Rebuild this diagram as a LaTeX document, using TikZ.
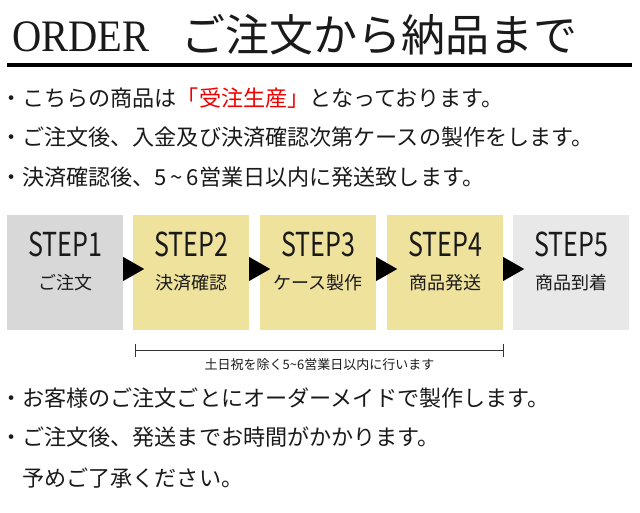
\documentclass[tikz,border=0pt]{standalone}
\usepackage{fontspec}
\setmainfont{Liberation Serif}
\newfontfamily\jp{Noto Sans CJK JP}
\usetikzlibrary{calc}
\definecolor{boxgrayA}{HTML}{D8D8D8}
\definecolor{boxyellow}{HTML}{EEE29C}
\definecolor{boxgrayB}{HTML}{E8E8E8}
\definecolor{jpred}{HTML}{F00000}
\definecolor{ink}{HTML}{1A1A1A}
\begin{document}
\begin{tikzpicture}[x=1pt,y=-1pt,
  bodyline/.style={anchor=west,inner sep=0,text=ink,font=\jp\fontsize{22.1}{26}\selectfont},
  stepbox/.style={minimum width=116pt,minimum height=115pt,inner sep=0,draw=none},
  steplabel/.style={inner sep=0,text=ink,font=\jp\fontsize{33}{36}\selectfont},
  stepsub/.style={inner sep=0,text=ink,font=\jp\fontsize{18}{20}\selectfont},
  arrowtri/.style={fill=black},
  bracket/.style={line width=1.1pt,draw=black!80}]
\useasboundingbox (0,0) rectangle (640,513);
% title
\node[anchor=base west,inner sep=0,text=ink,font=\fontsize{45}{50}\selectfont] (order) at (12,52) {\scalebox{0.9}[1]{ORDER}};
\node[anchor=west,inner sep=0,text=ink,font=\jp\fontsize{44}{50}\selectfont] (title) at (181,35) {ご注文から納品まで};
\coordinate (rulel) at (7,65);
\coordinate (ruler) at (632,65);
\draw[line width=4pt] (rulel) -- (ruler);
% upper notes
\node[bodyline] (l1) at (0,98) {・こちらの商品は{\color{jpred}「受注生産」}となっております。};
\node[bodyline] (l2) at (0,137) {・ご注文後、入金及び決済確認次第ケースの製作をします。};
\node[bodyline] (l3) at (0,177) {・決済確認後、5\,\textasciitilde\,6営業日以内に発送致します。};
% steps
\node[stepbox,fill=boxgrayA] (b1) at (65,272.5) {};
\node[stepbox,fill=boxyellow] (b2) at (191,272.5) {};
\node[stepbox,fill=boxyellow] (b3) at (318,272.5) {};
\node[stepbox,fill=boxyellow] (b4) at (445,272.5) {};
\node[stepbox,fill=boxgrayB] (b5) at (571,272.5) {};
\foreach \b/\n/\t in {b1/1/ご注文,b2/2/決済確認,b3/3/ケース製作,b4/4/商品発送,b5/5/商品到着}{
  \node[steplabel] (s\n) at ($(\b.center)+(0,-28.5)$) {\scalebox{0.76}[1]{STEP\n}};
  \node[stepsub] (t\n) at ($(\b.center)+(0,10.5)$) {\t};
}
\foreach \a in {b1,b2,b3,b4}{
  \fill[arrowtri] ($(\a.east)+(0,-15.5)$) -- ($(\a.east)+(0,8.5)$) -- ($(\a.east)+(21,-3.5)$) -- cycle;
}
% bracket
\coordinate (bl) at ($(b2.south west)+(3,20)$);
\coordinate (br) at ($(b4.south east)+(0,20)$);
\draw[bracket] (bl) -- (br);
\draw[bracket] ($(bl)+(0,-6.5)$) -- ($(bl)+(0,6.5)$);
\draw[bracket] ($(br)+(0,-6.5)$) -- ($(br)+(0,6.5)$);
\node[inner sep=0,text=ink,font=\jp\fontsize{13}{15}\selectfont] (note) at ($(bl)!0.5!(br)+(0,14)$) {土日祝を除く5\textasciitilde6営業日以内に行います};
% lower notes
\node[bodyline] (l4) at (0,398) {・お客様のご注文ごとにオーダーメイドで製作します。};
\node[bodyline] (l5) at (0,437) {・ご注文後、発送までお時間がかかります。};
\node[bodyline] (l6) at (0,478) {　予めご了承ください。};
\end{tikzpicture}
\end{document}
